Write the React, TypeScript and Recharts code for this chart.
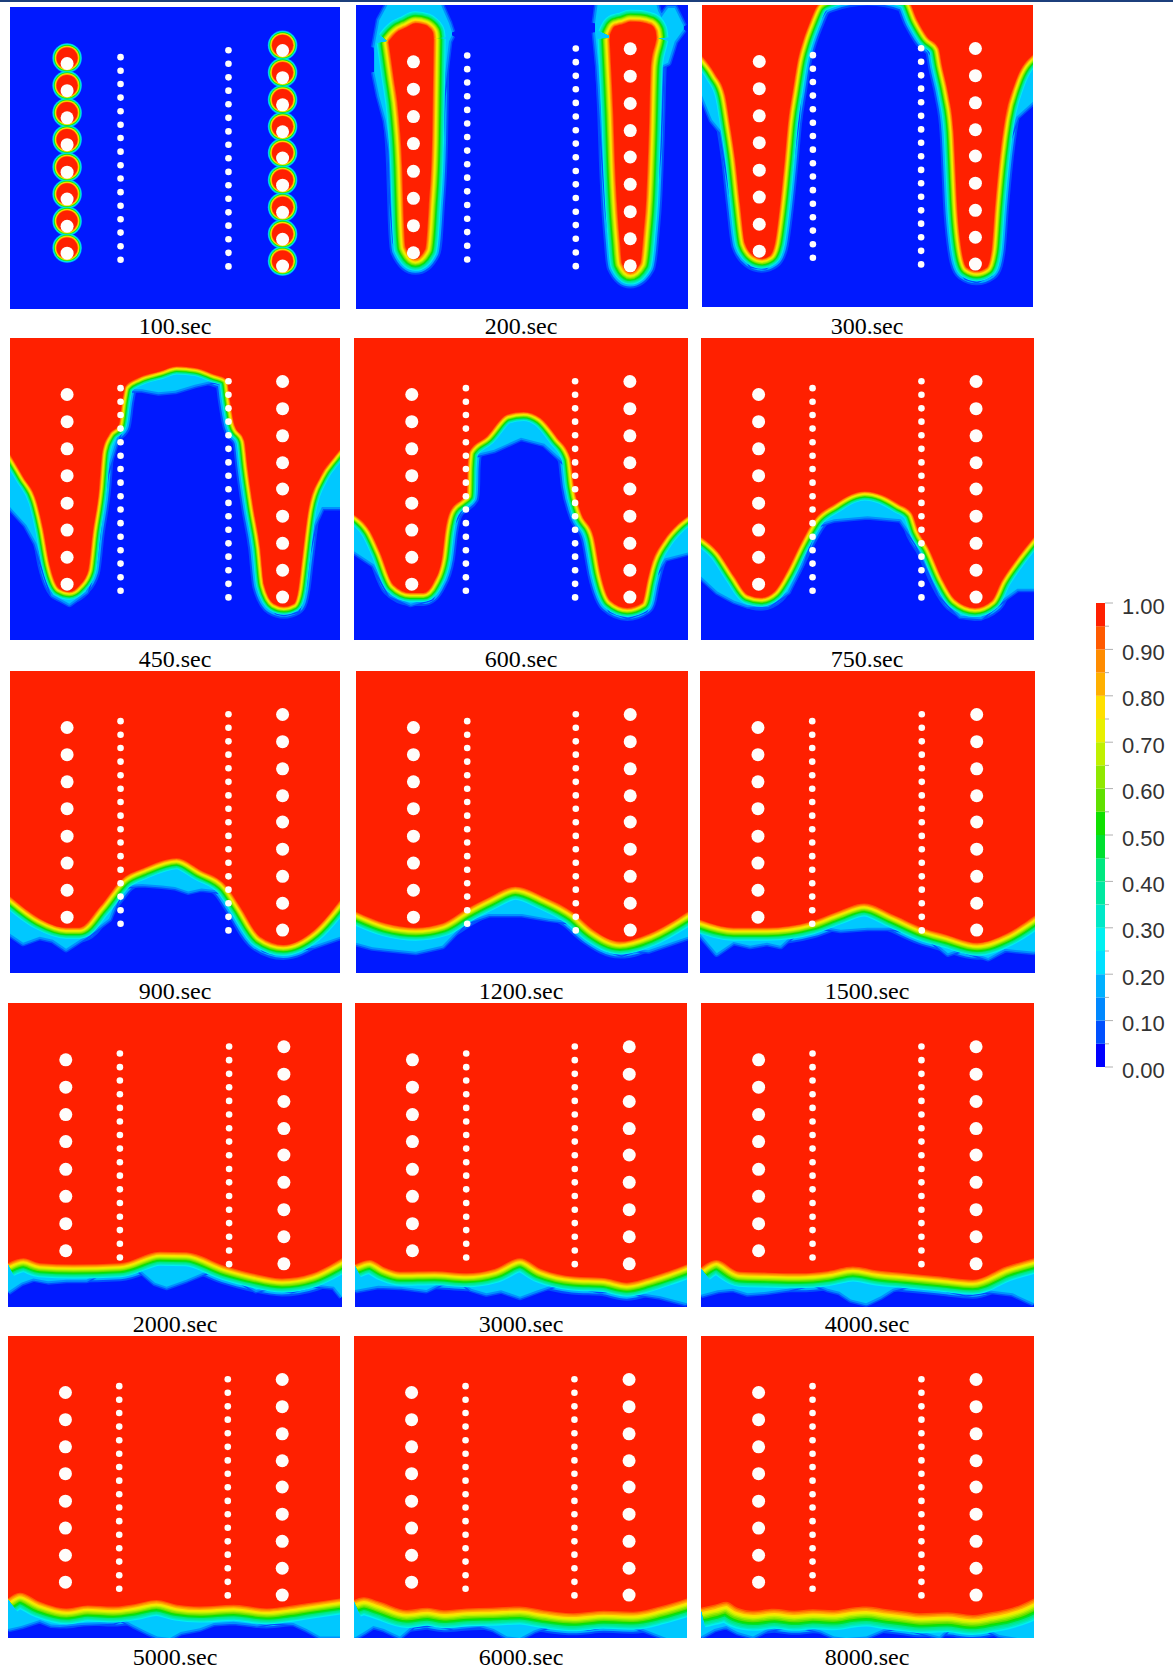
import React from "react";
import { Area, Bar, BarChart, ComposedChart, Scatter, XAxis, YAxis } from "recharts";

const RED = "#ff2000";
const BLUE = "#0019ff";

// colour bar, bottom to top
const barColors = [
  "#0000ff", "#0050ff", "#0088ff", "#00b0ff", "#00e0ff", "#00f0f0", "#00e8c8", "#00e8a0", "#00e880", "#00e030",
  "#10e000", "#60e000", "#90e800", "#c0f000", "#e8f000", "#ffe000", "#ffb000", "#ff8c00", "#ff5a00", "#ff2000",
];
const barBands = [0.05, 0.05, 0.05, 0.05, 0.05, 0.05, 0.05, 0.05, 0.05, 0.05, 0.05, 0.05, 0.05, 0.05, 0.05, 0.05, 0.05, 0.05, 0.05, 0.05];
const barTicks = [0, 0.05, 0.1, 0.15, 0.2, 0.25, 0.3, 0.35, 0.4, 0.45, 0.5, 0.55, 0.6, 0.65, 0.7, 0.75, 0.8, 0.85, 0.9, 0.95, 1];

// wells, in percent of the panel
const bigLeftY = [18.7, 27.7, 36.7, 45.6, 54.7, 63.6, 72.6, 81.5];
const bigRightY = [14.4, 23.4, 32.4, 41.3, 50, 59, 68, 76.9, 85.8];
const smallLeftY = [16.6, 21.1, 25.5, 30, 34.5, 39, 43.4, 47.9, 52.4, 56.8, 61.3, 65.8, 70.3, 74.7, 79.2, 83.7];
const smallRightY = [14.3, 18.8, 23.3, 27.7, 32.2, 36.7, 41.2, 45.6, 50.1, 54.6, 59, 63.5, 68, 72.4, 76.9, 81.4, 85.9];
const bigLeftX = 17.3;
const bigRightX = 82.6;
const smallLeftX = 33.5;
const smallRightX = 66.2;

// 100 sec blobs sit a little above the wells
const blobLeftY = [16.9, 26, 35, 43.9, 53, 61.9, 70.9, 79.8];
const blobRightY = [12.7, 21.7, 30.7, 39.6, 48.3, 57.3, 66.3, 75.2, 84.1];
const blobRings = [14.8, 14.2, 13.6, 13, 12.4, 11.8, 11.2, 10.6];
const blobColors = ["#00a0ff", "#00e8f0", "#00e8a0", "#10e000", "#c0f000", "#ffe000", "#ff8c00", RED];

// 200 sec plumes: x, upper edge, lower edge
const plumeLeftX = [9.8, 11.3, 12.9, 13.9, 14.4, 14.9, 17.9, 20.9, 21.9, 22.9, 23.2, 23.4];
const plumeLeftTop = [12, 10, 8.5, 8, 7.7, 7.5, 6, 6.6, 7.3, 8.5, 9.2, 11];
const plumeLeftBottom = [12, 23.6, 36.8, 53.3, 70.9, 79.7, 83.5, 80.2, 66.5, 45, 25, 11];
const plumeRightX = [76.4, 77, 77.5, 78, 78.6, 79.5, 80.1, 82.6, 85.6, 86.6, 87.4, 88.2, 88.8, 90.2, 90.5];
const plumeRightTop = [10, 8.5, 7.5, 7, 6.8, 6.5, 6.4, 5.5, 5.6, 5.8, 6, 6.3, 6.5, 8.5, 11];
const plumeRightBottom = [11, 24, 36, 52, 65, 78, 85, 88, 85, 75, 64, 42, 20, 12.5, 11];
const haloLeftX = [5.5, 7, 9, 10.4, 11, 12, 14, 18, 21, 23, 25, 26, 28, 28.9];
const haloLeftTop = [14, 5, 1, -2, -2, -2, -2, -2, -2, -2, -2, 1, 6, 9];
const haloLeftBottom = [22, 30, 38, 48, 65, 78, 83, 85.5, 83.5, 70, 55, 30, 12, 10];
const haloRightX = [72, 73, 74.5, 76, 78, 80, 83, 86, 88, 90, 91, 92, 94, 96, 98.7];
const haloRightTop = [6, -2, -2, -2, -2, -2, -2, -2, -2, -2, 2, 4, 1, 1, 7];
const haloRightBottom = [9, 20, 45, 68, 85, 89, 90.5, 88, 76, 60, 48, 20, 19, 12, 8];

// red edge and blue edge of the front for each time step
const front300X = [0, 4, 7, 8.5, 10, 11.5, 13, 15.5, 18, 20.5, 22, 23.5, 25, 26, 27.5, 29, 30.5, 32.5, 35, 38, 50, 62, 65, 68, 71.5, 72.5, 74.5, 76, 76.5, 77, 78, 80, 83, 86, 87.5, 88.5, 90, 91.5, 94.5, 100];
const front300Y = [17, 23, 30, 40, 51, 66, 79, 83, 84, 83, 79, 67, 51, 39, 28, 18, 12, 6, 0, -2, -4.5, -2, 5, 10.5, 14.3, 20, 30, 42, 53, 65, 78, 87, 88.2, 87, 81, 67, 50, 38, 26, 16.5];
const fringe300X = [0, 3, 6, 8, 10, 12, 15, 19, 23, 25, 27, 28.5, 30, 33, 37, 40, 50, 60, 65, 68, 72, 74, 75, 76, 77, 80, 83, 87, 89, 89.5, 92, 95, 100];
const fringe300Y = [30, 38, 42, 55, 68, 80, 86, 86.5, 82, 68, 50, 38, 15, 8, 1, -3, -5, -3, 8, 13, 20, 33, 45, 65, 82, 90, 91, 89, 70, 65, 46, 37, 32];

const front450X = [0, 4, 8, 10, 12, 15, 18, 21, 23.7, 25, 27, 28, 30, 33, 34, 35, 39, 45.5, 50.5, 56.5, 61.6, 65.7, 66.7, 68, 71, 72, 73.7, 75.8, 77, 80, 83, 86, 87.4, 88.4, 90.4, 94, 98, 100];
const front450Y = [38.6, 46, 54, 63, 75, 83, 84, 82, 77, 65, 50, 37.5, 32, 28.7, 21, 16, 13.2, 11, 9.4, 10, 12, 13.8, 21, 28.7, 34, 43, 56, 69.5, 81.7, 88, 89, 88, 83, 74, 57, 46, 39.7, 37];
const fringe450X = [0, 5, 8, 10, 13, 18, 23, 25.5, 27, 29, 33, 35, 40, 45, 50, 56, 62, 66, 69, 72, 73, 75, 77, 78, 81, 83, 87, 89, 90, 92, 94.5, 100];
const fringe450Y = [56, 62, 68, 75, 85, 88, 84, 74, 60, 45, 31, 17, 17, 18, 17.5, 15.5, 14, 15, 30, 36, 45, 58, 70, 82, 90.5, 91, 90, 82, 72, 62, 56, 56];

const front600X = [0, 4.8, 7.8, 11.8, 16.8, 20.8, 23.8, 26.3, 27.3, 28.8, 32.3, 33.8, 34, 34.6, 39.8, 45.8, 50.8, 55.8, 60.8, 64.8, 65.8, 67.8, 71.8, 73.8, 76.8, 81.8, 86.3, 87.8, 88.8, 92.8, 96.8, 100];
const front600Y = [58.5, 64, 71, 81.7, 84.4, 84.4, 81, 73, 64, 57.4, 53.5, 52, 43, 37.5, 32.6, 25.4, 24.5, 26.5, 33, 39.7, 48.6, 57.4, 66, 78, 87, 89.4, 87.7, 80.5, 76, 67, 61.8, 59];
const fringe600X = [0, 6, 11, 17, 23, 27, 29, 33, 34.6, 42, 50, 57, 64, 66, 68, 72, 74, 77, 82, 87, 89, 93, 100];
const fringe600Y = [70.6, 75, 85, 88, 86, 75, 62, 54, 39, 37, 33, 35, 42, 50, 60, 70, 82, 90, 92, 90, 80, 73, 71];

const front750X = [0, 5.2, 10, 14, 18, 22, 26, 30, 34.2, 40.2, 45.2, 49.2, 54.3, 59.3, 63.3, 65.3, 68.3, 72.3, 76.3, 82.3, 87.3, 90.3, 94.3, 100];
const front750Y = [66, 71, 79, 85, 86, 84, 77, 68, 60, 55, 51.8, 50.8, 52, 55, 58, 64, 69.5, 79.5, 86.6, 89.4, 87, 80.5, 74, 66];
const fringe750X = [0, 5, 10, 14, 20, 26, 30, 34, 40, 50, 60, 65, 72, 78, 84, 90, 95, 100];
const fringe750Y = [79, 84, 87, 88.5, 88.5, 84, 75, 62, 60, 59, 60, 68, 85, 92, 92.5, 87, 83, 83];

const front900X = [0, 9, 17, 21, 27.3, 34.3, 40.4, 50.5, 57.6, 65.7, 69.7, 75.8, 82.8, 92, 100];
const front900Y = [74.7, 82, 85, 85, 78, 68.6, 65.3, 62, 65.9, 71.4, 78, 88, 90.7, 86, 76];
const fringe900X = [0, 4, 9, 13, 17, 24, 30, 34, 40, 46, 50, 54, 58, 66, 72, 77, 80, 83, 88, 92, 100];
const fringe900Y = [87, 90, 88, 89, 92, 87, 82, 71, 70.5, 71, 71.5, 73, 72, 73, 82, 92, 93, 93, 91.5, 91, 88];

const front1200X = [0, 9, 18, 26, 33, 40, 48, 57, 65.4, 71.4, 79.5, 88.5, 100];
const front1200Y = [79.7, 83.6, 85, 83.6, 79, 75, 71.4, 75, 80, 85.7, 89.6, 86.9, 79.7];
const fringe1200X = [0, 5, 9, 18, 26, 33, 40, 50, 58, 66, 72, 76, 80, 84, 88, 100];
const fringe1200Y = [90, 91.5, 92, 93, 91, 83, 80.5, 80.5, 82, 83, 89, 92, 93.5, 92, 92.5, 88];

const front1500X = [0, 10, 20, 33, 41, 49, 57.8, 66.7, 73.7, 82.7, 91.6, 100];
const front1500Y = [82.4, 85, 85, 83, 79.7, 77, 80.8, 85.2, 87.4, 90, 86.9, 81];
const fringe1500X = [0, 5, 10, 15, 20, 24, 28, 33, 42, 50, 58, 67, 74, 78, 82, 86, 91, 100];
const fringe1500Y = [87, 93.5, 89.7, 91, 90, 91, 87, 84, 85.7, 85, 85, 87, 93.5, 92, 93.5, 95, 92, 93];

const front2000X = [0, 4.6, 9.6, 19.6, 33.5, 45.5, 53.4, 65.4, 73.3, 82, 91, 100];
const front2000Y = [85.6, 84, 85.6, 86, 85.6, 81.8, 82, 86.7, 89, 90.6, 89, 84];
const fringe2000X = [0, 4, 7.6, 12, 17.5, 23.5, 29.5, 34, 39.5, 44, 47.5, 53.4, 60, 65.4, 74.3, 79, 85, 91, 97.6, 100];
const fringe2000Y = [95, 92, 90.6, 91.5, 91, 91, 87.3, 87, 87.8, 92, 93.3, 91, 88, 88.4, 94.4, 93, 94.4, 92.5, 93.3, 96.6];

const front3000X = [0, 4.4, 9, 13.5, 24, 33.6, 42, 49.7, 56, 65.8, 75, 81.9, 88, 94, 100];
const front3000Y = [86, 84.5, 87, 88.4, 88.2, 88.9, 87.5, 84, 87.5, 90, 90.5, 92, 90.5, 88.4, 86];
const fringe3000X = [0, 7, 13.5, 21.5, 26, 31.6, 35, 39.6, 44, 49.7, 55, 61.8, 68, 73.8, 80, 86, 92, 100];
const fringe3000Y = [94.4, 93, 93.3, 94.4, 92, 91, 94, 95.5, 94.5, 96.6, 94.5, 92, 93, 94.4, 94, 95.5, 96.5, 98.8];

const front4000X = [0, 4.6, 11.6, 20, 29.6, 38, 45.6, 53, 61.6, 72, 81.6, 91.6, 100];
const front4000Y = [87, 84.5, 88.4, 88.7, 88.9, 88.2, 86.7, 88, 88.9, 90, 91, 86.7, 84];
const fringe4000X = [0, 5, 9.6, 14, 19.6, 26, 33.6, 38, 41.6, 45, 49.6, 54, 57.6, 63, 69.6, 74, 79.6, 86, 93.6, 100];
const fringe4000Y = [96, 94.5, 94, 95.5, 95, 94, 92, 94, 95, 97.5, 98.8, 96.5, 94, 92.5, 92, 94, 95.5, 94.5, 95.5, 98.8];

const front5000X = [0, 3.6, 9.6, 17.6, 24, 31.7, 38, 44.7, 51, 57.7, 68, 77.9, 84, 90, 100];
const front5000Y = [86.9, 85, 88, 90.2, 89.2, 89.6, 88.8, 87.4, 89, 89.6, 89, 90.2, 89.5, 88.5, 86.9];
const fringe5000X = [0, 4, 9.6, 13, 15.7, 22, 31.7, 34, 37.8, 42, 45, 48.8, 52, 57.8, 62, 67.9, 75, 80, 86, 90, 94, 100];
const fringe5000Y = [97, 96, 94, 95.5, 95.7, 95, 94.6, 93.5, 95.7, 98, 99.5, 100, 98, 96.8, 95, 94.6, 95.5, 94.5, 95, 97, 99.5, 99.5];

const front6000X = [0, 3, 7.8, 15.8, 22, 27, 33.8, 41, 49.8, 57, 65.8, 75, 83.8, 91.8, 100];
const front6000Y = [87.4, 86.5, 88, 90.7, 90, 90.8, 90.2, 90, 89.6, 90.8, 91.8, 91, 91.3, 89.6, 86.9];
const fringe6000X = [0, 3, 5.8, 9, 13.8, 17.8, 24, 30, 37.8, 42, 46, 49.8, 54, 58, 63.8, 70, 76, 83.8, 88, 93.8, 100];
const fringe6000Y = [100, 98, 96, 97, 99.5, 95.7, 95, 96.5, 95.7, 97, 99.5, 100, 97.5, 96, 95, 96.5, 95.5, 95.7, 97.5, 100, 100];

const front8000X = [0, 4, 7.6, 11, 15.6, 22, 28, 33.6, 40, 45, 49.6, 56, 62, 65.6, 74, 81.6, 87, 91.6, 96, 100];
const front8000Y = [90, 89, 88, 90, 91, 90.3, 91, 90.5, 90.8, 90, 89.6, 90.5, 91.3, 91.8, 91.5, 92.4, 91.5, 90.5, 89, 86.9];
const fringe8000X = [0, 4, 7.6, 11, 15.6, 20, 25, 29.6, 36, 40, 43.6, 49.6, 55, 59.6, 65, 71.6, 74, 77.6, 84, 89.6, 95, 100];
const fringe8000Y = [99.5, 97, 96, 98, 99.5, 97, 96, 95.7, 97.5, 99.5, 100, 99.5, 97, 96, 97.5, 99.5, 97, 95, 96, 99, 100, 100];

const ABOVE = -10;
type Row = { x: number; range: (number | null)[] };

const frontRows = (xs: number[], ys: number[]): Row[] => xs.map((x, i) => ({ x, range: [ABOVE, ys[i]] }));
const plumeRows = (xs: number[], top: number[], bottom: number[]): Row[] =>
  xs.map((x, i) => ({ x, range: [top[i], bottom[i]] }));
const gap: Row = { x: 50, range: [null, null] };

const wells = [
  ...bigLeftY.map((y) => ({ x: bigLeftX, y, big: true })),
  ...bigRightY.map((y) => ({ x: bigRightX, y, big: true })),
  ...smallLeftY.map((y) => ({ x: smallLeftX, y, big: false })),
  ...smallRightY.map((y) => ({ x: smallRightX, y, big: false })),
];
const blobs = [
  ...blobLeftY.map((y) => ({ x: bigLeftX, y })),
  ...blobRightY.map((y) => ({ x: bigRightX, y })),
];

const panels: { label: string; left: number; top: number; width: number; height: number; band: number; front?: Row[]; fringe?: Row[] }[] = [
  { label: "100.sec", left: 10, top: 7, width: 330, height: 302, band: 0 },
  {
    label: "200.sec", left: 356, top: 5, width: 332, height: 304, band: 12,
    front: [...plumeRows(plumeLeftX, plumeLeftTop, plumeLeftBottom), gap, ...plumeRows(plumeRightX, plumeRightTop, plumeRightBottom)],
    fringe: [...plumeRows(haloLeftX, haloLeftTop, haloLeftBottom), gap, ...plumeRows(haloRightX, haloRightTop, haloRightBottom)],
  },
  { label: "300.sec", left: 702, top: 5, width: 331, height: 302, band: 10, front: frontRows(front300X, front300Y), fringe: frontRows(fringe300X, fringe300Y) },
  { label: "450.sec", left: 10, top: 338, width: 330, height: 302, band: 8, front: frontRows(front450X, front450Y), fringe: frontRows(fringe450X, fringe450Y) },
  { label: "600.sec", left: 354, top: 338, width: 334, height: 302, band: 9, front: frontRows(front600X, front600Y), fringe: frontRows(fringe600X, fringe600Y) },
  { label: "750.sec", left: 701, top: 338, width: 333, height: 302, band: 9, front: frontRows(front750X, front750Y), fringe: frontRows(fringe750X, fringe750Y) },
  { label: "900.sec", left: 10, top: 671, width: 330, height: 302, band: 11, front: frontRows(front900X, front900Y), fringe: frontRows(fringe900X, fringe900Y) },
  { label: "1200.sec", left: 356, top: 671, width: 332, height: 302, band: 13, front: frontRows(front1200X, front1200Y), fringe: frontRows(fringe1200X, fringe1200Y) },
  { label: "1500.sec", left: 700, top: 671, width: 335, height: 302, band: 13, front: frontRows(front1500X, front1500Y), fringe: frontRows(fringe1500X, fringe1500Y) },
  { label: "2000.sec", left: 8, top: 1003, width: 334, height: 304, band: 14, front: frontRows(front2000X, front2000Y), fringe: frontRows(fringe2000X, fringe2000Y) },
  { label: "3000.sec", left: 355, top: 1003, width: 332, height: 304, band: 14, front: frontRows(front3000X, front3000Y), fringe: frontRows(fringe3000X, fringe3000Y) },
  { label: "4000.sec", left: 701, top: 1003, width: 333, height: 304, band: 15, front: frontRows(front4000X, front4000Y), fringe: frontRows(fringe4000X, fringe4000Y) },
  { label: "5000.sec", left: 8, top: 1336, width: 332, height: 302, band: 16, front: frontRows(front5000X, front5000Y), fringe: frontRows(fringe5000X, fringe5000Y) },
  { label: "6000.sec", left: 354, top: 1336, width: 333, height: 302, band: 18, front: frontRows(front6000X, front6000Y), fringe: frontRows(fringe6000X, fringe6000Y) },
  { label: "8000.sec", left: 701, top: 1336, width: 333, height: 302, band: 20, front: frontRows(front8000X, front8000Y), fringe: frontRows(fringe8000X, fringe8000Y) },
];
const labelCenters = [175, 521, 867];
const labelBaselines = [334, 667, 999, 1332, 1665];

// concentric dots, the front bands and the fringe are all the same series with a fatter stroke
const disc = (r: number | ((p: any) => number), fill: string) => (p: any) => (
  <circle cx={p.cx} cy={p.cy} r={typeof r === "number" ? r : r(p)} fill={fill} />
);

const layer = (rows: Row[], key: string, color: string, width: number, type: "linear" | "monotoneX") => (
  <Area
    key={key}
    data={rows}
    dataKey="range"
    type={type}
    fill={color}
    fillOpacity={1}
    stroke={width > 0 ? color : "none"}
    strokeWidth={width}
    strokeLinejoin="round"
    dot={false}
    activeDot={false}
    isAnimationActive={false}
  />
);

// cyan sits at the full band distance from the red edge, red has no stroke
const FIRST_BAND = 5;
const bandLayers = (rows: Row[], band: number) =>
  barColors.slice(FIRST_BAND).map((color, i) => {
    const width = (2 * band * (14 - i)) / 14;
    return layer(rows, `band-${color}`, color, width, "monotoneX");
  });

const underLayers = (rows: Row[], band: number) => [
  layer(rows, "under-0", barColors[1], 2 * band + 8, "monotoneX"),
  layer(rows, "under-1", barColors[3], 2 * band + 4, "monotoneX"),
];

const fringeLayers = (rows: Row[]) => [
  layer(rows, "fringe-0", "#0050ff", 7, "linear"),
  layer(rows, "fringe-1", "#0090ff", 4, "linear"),
  layer(rows, "fringe-2", "#00c8ff", 0, "linear"),
];

function Panel({ p }: { p: (typeof panels)[number] }) {
  return (
    <div style={{ position: "absolute", left: p.left, top: p.top, width: p.width, height: p.height, background: BLUE }}>
      <ComposedChart width={p.width} height={p.height} margin={{ top: 0, right: 0, bottom: 0, left: 0 }}>
        <XAxis dataKey="x" type="number" domain={[0, 100]} hide allowDataOverflow />
        <YAxis type="number" domain={[0, 100]} reversed hide allowDataOverflow />
        {p.front && underLayers(p.front, p.band)}
        {p.fringe && fringeLayers(p.fringe)}
        {p.front && bandLayers(p.front, p.band)}
        {p.band === 0 &&
          blobRings.map((r, i) => (
            <Scatter key={r} data={blobs} dataKey="y" shape={disc(r, blobColors[i])} isAnimationActive={false} />
          ))}
        <Scatter data={wells} dataKey="y" shape={disc((d) => (d.big ? 6.5 : 3.3), "#fffdfb")} isAnimationActive={false} />
      </ComposedChart>
    </div>
  );
}

const barRow = [Object.fromEntries(barBands.map((v, i) => [`b${i}`, v]))];

function BarTick({ x, y, payload }: any) {
  const major = Math.round(payload.value * 100) % 10 === 0;
  return (
    <g>
      <line x1={x} x2={x + (major ? 8 : 4)} y1={y} y2={y} stroke="#b0b0b0" strokeWidth={1} />
      {major && (
        <text x={x + 17} y={y + 10.5} fontSize={22} fill="#333" fontFamily="Liberation Sans">
          {payload.value.toFixed(2)}
        </text>
      )}
    </g>
  );
}

function ColorBar() {
  return (
    <div style={{ position: "absolute", left: 1090, top: 593 }}>
      <BarChart
        width={83}
        height={490}
        data={barRow}
        margin={{ top: 10, right: 0, bottom: 16, left: 6 }}
        barCategoryGap={0}
      >
        <XAxis hide />
        <YAxis
          orientation="right"
          type="number"
          domain={[0, 1]}
          ticks={barTicks}
          interval={0}
          width={68}
          tickLine={false}
          axisLine={false}
          tickSize={0}
          tickMargin={0}
          tick={<BarTick />}
        />
        {barBands.map((_, i) => (
          <Bar key={i} dataKey={`b${i}`} stackId="bar" fill={barColors[i]} isAnimationActive={false} />
        ))}
      </BarChart>
    </div>
  );
}

export default function App() {
  return (
    <div style={{ position: "absolute", left: 0, top: 0, width: 1173, height: 1673, background: "#fff", overflow: "hidden" }}>
      <div style={{ position: "absolute", left: 0, top: 0, width: 1173, height: 2, background: "#1c3f7c" }} />
      {panels.map((p, i) => (
        <React.Fragment key={p.label}>
          <Panel p={p} />
          <div
            style={{
              position: "absolute",
              left: labelCenters[i % 3] - 70,
              width: 140,
              top: labelBaselines[Math.floor(i / 3)] - 21,
              textAlign: "center",
              fontFamily: "Liberation Serif",
              fontSize: 24,
              lineHeight: "26px",
              color: "#000",
            }}
          >
            {p.label}
          </div>
        </React.Fragment>
      ))}
      <ColorBar />
    </div>
  );
}
